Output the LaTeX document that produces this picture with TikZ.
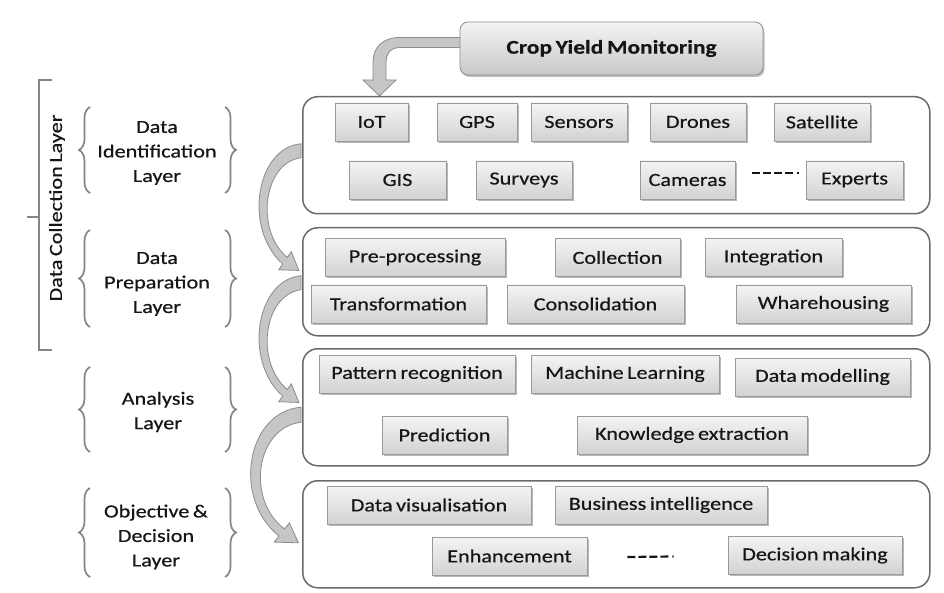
\documentclass[tikz,border=0pt]{standalone}
\usepackage{fontspec}
\setmainfont{Carlito}[FakeStretch=1.2,WordSpace=0.7,FakeBold=0.5]
\usetikzlibrary{calc,shadows,decorations.pathreplacing}

\definecolor{ink}{HTML}{161616}
\definecolor{frame}{HTML}{6A6A6A}
\definecolor{boxedge}{HTML}{9A9A9A}
\definecolor{boxtop}{HTML}{F4F4F4}
\definecolor{boxbot}{HTML}{D2D2D2}
\definecolor{titlebot}{HTML}{C8C8C8}
\definecolor{arrowfill}{HTML}{C6C6C6}
\definecolor{arrowedge}{HTML}{8C8C8C}
\definecolor{bracegray}{HTML}{858585}

\tikzset{
  layerbox/.style={draw=frame, line width=1.5pt, rounded corners=15pt, fill=white,
    minimum width=627pt, anchor=north west, inner sep=0pt},
  itembox/.style={draw=boxedge, line width=0.6pt, top color=boxtop, bottom color=boxbot,
    minimum height=38pt, inner xsep=2pt, text=ink,
    drop shadow={shadow xshift=1.5pt, shadow yshift=-1.8pt, fill=black, opacity=0.28}},
  titlebox/.style={draw=arrowedge, line width=0.8pt, rounded corners=8pt,
    top color=boxtop, bottom color=titlebot,
    minimum width=303pt, minimum height=53pt, text=ink, font=\fontsize{19.5}{24}\selectfont\bfseries,
    drop shadow={shadow xshift=1.5pt, shadow yshift=-2pt, fill=black, opacity=0.25}},
  layerlabel/.style={align=center, text=ink},
  bracestyle/.style={draw=bracegray, line width=1.7pt, decorate,
    decoration={brace, amplitude=11pt, aspect=0.5}},
  bracketline/.style={draw=bracegray, line width=1.8pt},
  blockarrow/.style={fill=arrowfill, draw=arrowedge, line width=0.8pt},
  dashline/.style={draw=ink, line width=2.2pt,
    dash pattern=on 8pt off 3pt on 8pt off 3pt on 8pt off 3pt on 8pt off 4pt on 2pt off 10pt},
  bendarrow/.pic={
    \filldraw[blockarrow] (0,0) .. controls (-45,4) and (-58,85) .. (-18.3,120.3)
      -- (-22.3,126) -- (-2.1,126.7) -- (-9.7,108) -- (-13.7,113.7)
      .. controls (-46,87) and (-38,19) .. (0,14) -- cycle;
  }
}

\begin{document}
\begin{tikzpicture}[x=1pt, y=-1pt, font=\fontsize{18.5}{24.5}\selectfont]
  \useasboundingbox[fill=white] (0,0) rectangle (944,593);

  % layer frames
  \node[layerbox, minimum height=117pt] (idbox)   at (302,96)  {};
  \node[layerbox, minimum height=108pt] (prepbox) at (302,227) {};
  \node[layerbox, minimum height=117pt] (anabox)  at (302,348) {};
  \node[layerbox, minimum height=107pt] (objbox)  at (302,480) {};

  % feed arrow from the title into the first layer
  \begin{scope}[shift={(461,48.5)}]
    \filldraw[blockarrow] (0,-11) -- (-61,-11) .. controls (-78,-11) and (-88,-1.5) .. (-88,13.5)
      -- (-88,31.5) -- (-98,31.5) -- (-81.5,47.5) -- (-65,31.5) -- (-75,31.5) -- (-75,14.5)
      .. controls (-75,4.5) and (-70,-1) .. (-61,-1) -- (0,-1) -- cycle;
  \end{scope}
  \node[titlebox] (crop) at (611.5,48.5) {Crop Yield Monitoring};

  % bent arrows between layers
  \pic at ($(idbox.west)+(-1,-11.5)$) {bendarrow};
  \pic at ($(prepbox.west)+(-1,-6)$) {bendarrow};
  \pic[xscale=1.2, yscale=1.07] at ($(anabox.west)+(-1,0)$) {bendarrow};

  % data identification layer
  \node[itembox, minimum width=73pt] (iot)       at (371.5,122) {IoT};
  \node[itembox, minimum width=80pt] (gps)       at (477,122)   {GPS};
  \node[itembox, minimum width=96pt] (sensors)   at (579,122)   {Sensors};
  \node[itembox, minimum width=96pt] (drones)    at (698,122)   {Drones};
  \node[itembox, minimum width=96pt] (satellite) at (822,122)   {Satellite};
  \node[itembox, minimum width=97pt] (gis)       at (397.5,180) {GIS};
  \node[itembox, minimum width=96pt] (surveys)   at (524,180)   {Surveys};
  \node[itembox, minimum width=95pt] (cameras)   at (687.5,180) {Cameras};
  \node[itembox, minimum width=97pt] (experts)   at (854.5,180) {Experts};
  \draw[dashline] ($(cameras.east)+(17,-7)$) -- ($(experts.west)+(-7,-7)$);

  % data preparation layer
  \node[itembox, minimum width=180pt] (preproc) at (415,257.5) {Pre-processing};
  \node[itembox, minimum width=125pt] (collect) at (617.5,257.5) {Collection};
  \node[itembox, minimum width=137pt] (integr)  at (773.5,257.5) {Integration};
  \node[itembox, minimum width=175pt] (transf)  at (398.5,304) {Transformation};
  \node[itembox, minimum width=177pt] (consol)  at (595.5,304) {Consolidation};
  \node[itembox, minimum width=175pt] (whare)   at (823.5,304) {Wharehousing};

  % analysis layer
  \node[itembox, minimum width=196pt] (pattern) at (417,374)   {Pattern recognition};
  \node[itembox, minimum width=188pt] (mlearn)  at (625,374)   {Machine Learning};
  \node[itembox, minimum width=175pt] (dmodel)  at (822.5,377) {Data modelling};
  \node[itembox, minimum width=125pt] (predict) at (444.5,435) {Prediction};
  \node[itembox, minimum width=230pt] (knowl)   at (692,435)   {Knowledge extraction};

  % objective and decision layer
  \node[itembox, minimum width=204pt] (dvis)    at (429,505)   {Data visualisation};
  \node[itembox, minimum width=212pt] (bintel)  at (661,505)   {Business intelligence};
  \node[itembox, minimum width=155pt] (enhance) at (509.5,556) {Enhancement};
  \node[itembox, minimum width=174pt] (decide)  at (815,555.5) {Decision making};
  \draw[dashline] ($(enhance.east)+(40,1)$) -- ($(decide.west)+(-54,1)$);

  % layer captions with braces
  \node[layerlabel] (idlab)   at (157,153) {Data\\Identification\\Layer};
  \node[layerlabel] (preplab) at (157,284) {Data\\Preparation\\Layer};
  \node[layerlabel] (analab)  at (158,412) {Analysis\\Layer};
  \node[layerlabel] (objlab)  at (156,537) {Objective \&\\Decision\\Layer};

  \draw[bracestyle] (90,193) -- (90,107);
  \draw[bracestyle] (225,107) -- (225,193);
  \draw[bracestyle] (90,327) -- (90,230);
  \draw[bracestyle] (225,230) -- (225,327);
  \draw[bracestyle] (90,452) -- (90,367);
  \draw[bracestyle] (225,367) -- (225,452);
  \draw[bracestyle] (90,577) -- (90,488);
  \draw[bracestyle] (225,488) -- (225,577);

  % outer bracket grouping the two collection layers
  \draw[bracketline] (52,80) -- (39,80) -- (39,350) -- (52,350);
  \draw[bracketline] (39,217) -- (27,217);
  \node[rotate=90, text=ink] (collab) at (57,208) {Data Collection Layer};
\end{tikzpicture}
\end{document}
